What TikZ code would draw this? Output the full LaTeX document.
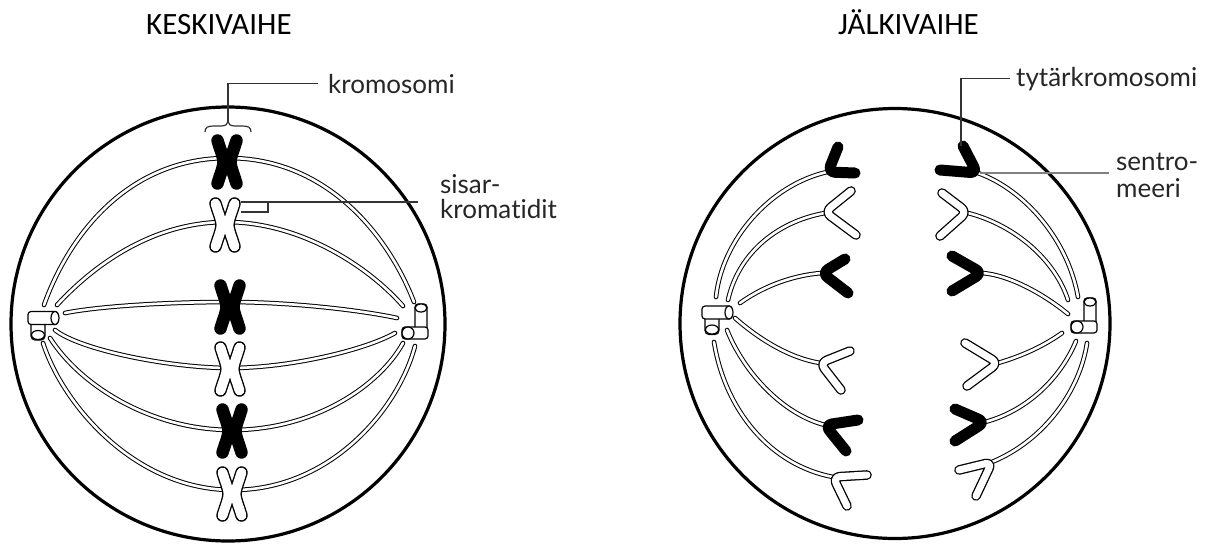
\documentclass[tikz,border=0pt]{standalone}
\usepackage{fontspec}
\setmainfont{Lato}[Ligatures={NoCommon}]
\newfontfamily\headfont{Carlito}
\begin{document}
\begin{tikzpicture}[x=1pt,y=-1pt,
  cellwall/.style={draw=black, line width=3.2pt},
  fibre/.style={draw=black, line width=1pt, double=white, double distance=2.6pt, line cap=round},
  xarm/.style={line width=12.5pt, line cap=round},
  darm/.style={line width=11pt, line cap=round, line join=round, rounded corners=7pt, draw=black},
  darmout/.style={line width=9.6pt, line cap=round, line join=round, rounded corners=7pt, draw=black},
  darmin/.style={line width=7pt, line cap=round, line join=round, rounded corners=7pt, draw=white},
  cent/.style={draw=black, line width=1.2pt, fill=white},
  leader/.style={draw=black!80, line width=1.3pt},
  leaderlight/.style={draw=black!50, line width=1.3pt},
  heading/.style={font=\headfont\fontsize{31}{37}\selectfont, anchor=base west, inner sep=0pt},
  tag/.style={font=\fontsize{26}{30}\selectfont, text=black!85, anchor=base west, inner sep=0pt},
  % metaphase chromosome: two sister chromatids joined at the centromere
  pics/chromX/.style={code={
    \draw[xarm, black] (-9.5,-21.5) .. controls (-6,-10) and (-3.5,-5) .. (-3.5,0) .. controls (-3.5,5) and (-6,10) .. (-9.5,21.5);
    \draw[xarm, black] (9.5,-21.5) .. controls (6,-10) and (3.5,-5) .. (3.5,0) .. controls (3.5,5) and (6,10) .. (9.5,21.5);
    \draw[xarm, line width=9.8pt, #1] (-9.5,-21.5) .. controls (-6,-10) and (-3.5,-5) .. (-3.5,0) .. controls (-3.5,5) and (-6,10) .. (-9.5,21.5);
    \draw[xarm, line width=9.8pt, #1] (9.5,-21.5) .. controls (6,-10) and (3.5,-5) .. (3.5,0) .. controls (3.5,5) and (6,10) .. (9.5,21.5);
  }},
  % centriole pair, horizontal barrel with a short one below
  pics/centA/.style={code={
    \draw[cent, rounded corners=4pt] (3,3) rectangle (17,22);
    \draw[cent] (10,17) ellipse[x radius=6.5, y radius=4.5];
    \draw[cent, rounded corners=3pt] (0,-6.5) rectangle (30,6.5);
    \draw[cent] (27,0) ellipse[x radius=4, y radius=6.5];
  }},
  % centriole pair, upright barrel with a short one at its foot
  pics/centB/.style={code={
    \draw[cent, rounded corners=3pt] (-6,-29) rectangle (6,-2);
    \draw[cent] (0,-25) ellipse[x radius=6, y radius=4];
    \draw[cent, rounded corners=3pt] (-19,-6) rectangle (7,6);
    \draw[cent] (-13,0) circle[radius=6];
  }},
]
\newcommand{\dchromB}[3]{\draw[darm] (#1) -- (#2) -- (#3);}
\newcommand{\dchromW}[3]{\draw[darmout] (#1) -- (#2) -- (#3); \draw[darmin] (#1) -- (#2) -- (#3);}

\useasboundingbox (0,0) rectangle (1228,544);

% ---------- headings ----------
\node[heading] (hmeta) at (146,34) {KESKIVAIHE};
\node[heading] (hana) at (838,34) {JÄLKIVAIHE};

% ---------- metaphase cell ----------
\draw[cellwall] (228,324) circle[radius=217];

\draw[fibre] (44,305) .. controls (69,235) and (128,158) .. (228,158) .. controls (328,158) and (389,237) .. (414,302);
\draw[fibre] (57,305) .. controls (92,267) and (151,222) .. (226,222) .. controls (300,222) and (368,266) .. (403,306);
\draw[fibre] (65,313) .. controls (100,306) and (170,302) .. (229,302) .. controls (290,302) and (360,310) .. (397,318);
\draw[fibre] (55,330) .. controls (80,350) and (170,368) .. (230,368) .. controls (290,368) and (365,350) .. (395,333);
\draw[fibre] (50,338) .. controls (80,385) and (150,430) .. (232,430) .. controls (315,430) and (380,385) .. (403,343);
\draw[fibre] (43,343) .. controls (63,405) and (135,490) .. (233,490) .. controls (330,490) and (398,410) .. (415,346);

\pic at (227,162) {chromX=black};
\pic at (225,225) {chromX=white};
\pic at (230,307) {chromX=black};
\pic at (230,369) {chromX=white};
\pic at (232,431) {chromX=black};
\pic at (232,494) {chromX=white};

\pic at (28,318) {centA};
\pic at (421,333) {centB};

% labels of the metaphase cell
\node[tag] (lkrom) at (328,93) {kromosomi};
\node[tag] (lsis1) at (440,193) {sisar-};
\node[tag] (lsis2) at (440,218) {kromatidit};

\coordinate (kbr) at (228,121);
\draw[leader, line width=1.2pt] (205,132) .. controls (205,127) and (208,126) .. (214,126) -- (221,126)
   .. controls (226,126) and (228,124) .. (kbr) .. controls (228,124) and (230,126) .. (235,126) -- (242,126)
   .. controls (248,126) and (251,127) .. (251,132);
\draw[leader] (kbr) |- ([xshift=-10pt]lkrom.west);

\coordinate (sisA) at (241,202);
\coordinate (sisB) at (241,212);
\coordinate (sisK) at (268,202);
\coordinate (sisEnd) at (418,202);
\draw[leader] (sisA) -- (sisEnd);
\draw[leader] (sisK) -- (sisK |- sisB) -- (sisB);

% ---------- anaphase cell ----------
\draw[cellwall] (895,323.5) circle[radius=215];

% fibres from the left pole
\draw[fibre] (716,297) .. controls (722,240) and (770,185) .. (827,172);
\draw[fibre] (728,300) .. controls (738,255) and (775,222) .. (825,213);
\draw[fibre] (740,303) .. controls (765,285) and (795,275) .. (822,273);
\draw[fibre] (735,318) .. controls (760,340) and (790,358) .. (820,363);
\draw[fibre] (727,330) .. controls (745,375) and (785,415) .. (825,425);
\draw[fibre] (714,342) .. controls (725,410) and (770,465) .. (833,477);
% fibres from the right pole
\draw[fibre] (978,173) .. controls (1025,190) and (1068,240) .. (1078,297);
\draw[fibre] (968,213) .. controls (1015,225) and (1055,260) .. (1068,300);
\draw[fibre] (982,273) .. controls (1010,275) and (1045,295) .. (1068,314);
\draw[fibre] (998,363) .. controls (1025,355) and (1045,345) .. (1062,333);
\draw[fibre] (985,422) .. controls (1030,410) and (1062,375) .. (1076,341);
\draw[fibre] (992,462) .. controls (1045,440) and (1080,390) .. (1087,343);

% daughter chromosomes moving left
\dchromB{838,147}{828,172}{855,173}
\dchromW{851,191}{825,212}{856,235}
\dchromB{845,259}{822,273}{848,293}
\dchromW{850,351}{820,363}{841,390}
\dchromB{858,420}{825,425}{846,451}
\dchromW{867,475}{833,477}{847,506}
% daughter chromosomes moving right
\dchromB{963,146}{977,173}{940,170}
\dchromW{942,193}{967,212}{940,236}
\dchromB{952,256}{982,273}{952,291}
\dchromW{965,343}{998,363}{967,386}
\dchromB{955,409}{985,422}{955,441}
\dchromW{959,470}{992,462}{976,496}

\pic at (702,312.5) {centA};
\pic at (1090,327) {centB};

% labels of the anaphase cell
\node[tag] (ltyt) at (1016,86) {tytärkromosomi};
\node[tag] (lsen1) at (1116,170) {sentro-};
\node[tag] (lsen2) at (1116,197) {meeri};

\coordinate (tyTop) at (961,146);
\draw[leader] (tyTop) |- ([xshift=-6pt]ltyt.west);
\coordinate (senV) at (980,173);
\coordinate (senEnd) at (1109,173);
\draw[leaderlight] (senV) -- (senEnd);

\end{tikzpicture}
\end{document}
